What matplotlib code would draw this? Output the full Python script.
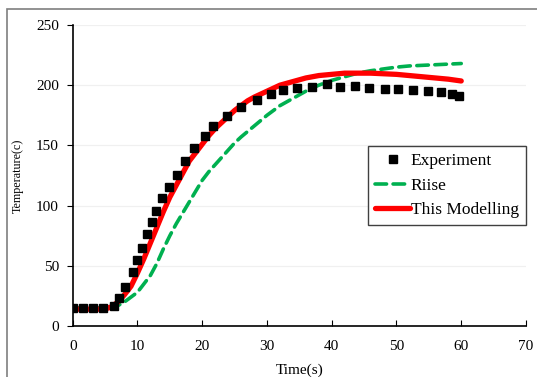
import matplotlib
matplotlib.use("Agg")
import matplotlib.pyplot as plt
import matplotlib.patches as mpatches

# Experiment (squares)
exp_t = [0, 1.6, 3.2, 4.7, 6.3, 7.1, 8.1, 9.3, 10.0, 10.7, 11.5, 12.2, 12.9,
         13.8, 14.9, 16.1, 17.4, 18.7, 20.4, 21.7, 23.8, 26.0, 28.4, 30.6,
         32.4, 34.7, 36.9, 39.2, 41.3, 43.6, 45.8, 48.2, 50.2, 52.6, 54.9,
         56.9, 58.5, 59.7]
exp_T = [15, 15, 15, 15, 17, 23, 32, 44.6, 54.5, 64.5, 76, 86.4, 95.2,
         106.3, 115.7, 125, 137.3, 147.8, 158, 166.4, 174.4, 182.2, 187.4, 192.9,
         196, 197.4, 198.8, 200.7, 198.8, 199.3, 198, 197.1, 196.6, 195.7, 195.2,
         194.4, 193, 191.3]

# Riise model (green dashed)
riise_t = [0, 5, 6, 7, 8, 9, 10, 11, 12, 13, 14, 15, 16, 17, 18, 19, 20, 21,
           22, 23, 24, 25, 26, 28, 30, 32, 34, 36, 38, 40, 42, 44, 46, 48, 50,
           52, 54, 56, 58, 60]
riise_T = [15, 15, 15.5, 17, 20, 24, 28, 35, 42, 52, 64, 75, 85, 94, 103, 112,
           121, 128, 134, 140, 146, 152, 157, 166, 175, 183, 189, 195, 200, 204,
           207, 210, 212, 213.5, 215, 216, 216.5, 217, 217.5, 218]

# This Modelling (red)
model_t = [0, 5, 6, 7, 8, 9, 10, 11, 12, 13, 14, 15, 16, 17, 18, 19, 20, 21,
           22, 23, 24, 25, 26, 27, 28, 30, 32, 34, 36, 38, 40, 42, 44, 46, 48,
           50, 52, 54, 56, 58, 60]
model_T = [14, 14, 16, 20, 26, 33, 44, 56, 69, 82, 95, 107, 117, 127, 137, 144,
           151, 158, 164, 169, 174, 179, 183, 187, 190, 195, 200, 203, 206, 208,
           209, 210, 210, 210, 209.5, 209, 208, 207, 206, 205, 203.5]

x_ticks = [0, 10, 20, 30, 40, 50, 60, 70]
y_ticks = [0, 50, 100, 150, 200, 250]

plt.rcParams["font.family"] = ["Liberation Serif", "DejaVu Serif"]

fig = plt.figure(figsize=(5.37, 3.77), dpi=100)
ax = fig.add_axes([0.1354, 0.1353, 0.9795 - 0.1354, 0.9337 - 0.1353])

# outer chart-area border
fig.patches.append(mpatches.Rectangle((6.5 / 537, -0.05), 1.2, 1 - 9 / 377 + 0.05,
                                      transform=fig.transFigure, fill=False,
                                      edgecolor="#7f7f7f", linewidth=1.2))

ax.plot(riise_t, riise_T, color="#00B050", lw=2.6, dashes=(3.2, 1.8),
        dash_capstyle="round", label="Riise", zorder=2)
ax.plot(model_t, model_T, color="#FF0000", lw=3.8, solid_capstyle="round",
        label="This Modelling", zorder=3)
ax.plot(exp_t, exp_T, "s", color="black", ms=6.2, label="Experiment", zorder=4)

ax.set_xlim(0, 70)
ax.set_ylim(0, 250)
ax.set_xticks(x_ticks)
ax.set_yticks(y_ticks)
ax.tick_params(axis="x", direction="in", length=4, labelsize=11, pad=10)
ax.tick_params(axis="y", direction="out", length=4, labelsize=11, pad=6)
ax.grid(axis="y", color="#f0f0f0", linewidth=0.9)
ax.set_axisbelow(True)
for s in ["top", "right"]:
    ax.spines[s].set_visible(False)
for s in ["left", "bottom"]:
    ax.spines[s].set_linewidth(1.2)

ax.set_xlabel("Time(s)", fontsize=11, labelpad=8)
ax.set_ylabel("Temperature(c)", fontsize=8.7, labelpad=9)

h, l = ax.get_legend_handles_labels()
order = [2, 0, 1]
leg = ax.legend([h[i] for i in order], [l[i] for i in order],
                loc="upper right", bbox_to_anchor=(1.0, 0.599), borderaxespad=0,
                fancybox=False, framealpha=1, edgecolor="#404040", fontsize=12.5,
                handlelength=2.0, handletextpad=0.05, labelspacing=0.5,
                borderpad=0.4)
leg.get_frame().set_linewidth(1.0)

fig.savefig("out.png", dpi=100)
